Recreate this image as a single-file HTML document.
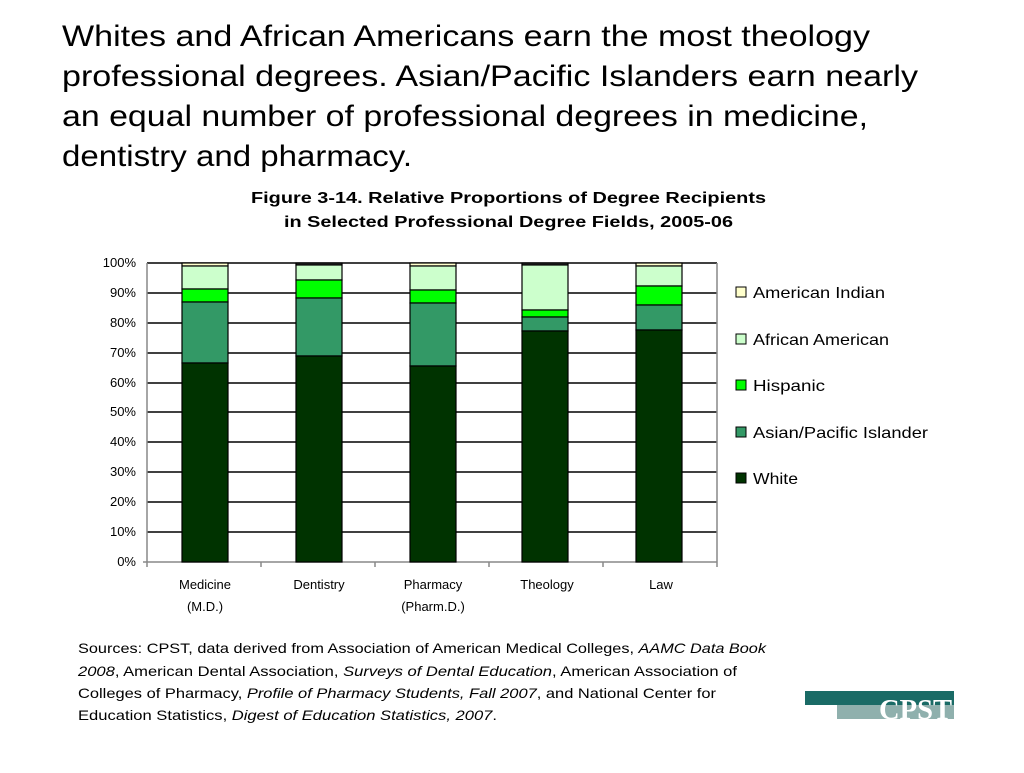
<!DOCTYPE html>
<html><head><meta charset="utf-8"><style>
body{margin:0;width:1024px;height:768px;background:#fff;overflow:hidden;font-family:"Liberation Sans",sans-serif}
</style></head><body>
<svg width="1024" height="768" xmlns="http://www.w3.org/2000/svg" font-family="Liberation Sans, sans-serif">
<g font-size="30" fill="#000">
<text x="62" y="46" textLength="808" lengthAdjust="spacingAndGlyphs">Whites and African Americans earn the most theology</text>
<text x="62" y="86" textLength="856" lengthAdjust="spacingAndGlyphs">professional degrees. Asian/Pacific Islanders earn nearly</text>
<text x="62" y="126" textLength="806" lengthAdjust="spacingAndGlyphs">an equal number of professional degrees in medicine,</text>
<text x="62" y="166" textLength="350" lengthAdjust="spacingAndGlyphs">dentistry and pharmacy.</text>
</g>
<g font-size="16" font-weight="bold">
<text x="251" y="203" textLength="515" lengthAdjust="spacingAndGlyphs">Figure 3-14. Relative Proportions of Degree Recipients</text>
<text x="284" y="227" textLength="449" lengthAdjust="spacingAndGlyphs">in Selected Professional Degree Fields, 2005-06</text>
</g>
<g stroke="#000" stroke-width="1.5">
<line x1="147" y1="263" x2="717" y2="263"/><line x1="147" y1="293" x2="717" y2="293"/>
<line x1="147" y1="323" x2="717" y2="323"/><line x1="147" y1="353" x2="717" y2="353"/>
<line x1="147" y1="383" x2="717" y2="383"/><line x1="147" y1="412" x2="717" y2="412"/>
<line x1="147" y1="442" x2="717" y2="442"/><line x1="147" y1="472" x2="717" y2="472"/>
<line x1="147" y1="502" x2="717" y2="502"/><line x1="147" y1="532" x2="717" y2="532"/>
</g>
<g stroke="#888" stroke-width="1.5">
<line x1="147" y1="263" x2="147" y2="562"/><line x1="717" y1="263" x2="717" y2="562"/>
<line x1="143" y1="562" x2="717" y2="562"/>
<line x1="147" y1="562" x2="147" y2="567"/><line x1="261" y1="562" x2="261" y2="567"/><line x1="375" y1="562" x2="375" y2="567"/><line x1="489" y1="562" x2="489" y2="567"/><line x1="603" y1="562" x2="603" y2="567"/><line x1="717" y1="562" x2="717" y2="567"/>
</g>
<g stroke="#000" stroke-width="1.2">
<rect x="182" y="263" width="46" height="3" fill="#ffffcc"/><rect x="182" y="266" width="46" height="23" fill="#ccffcc"/><rect x="182" y="289" width="46" height="13" fill="#00ff00"/><rect x="182" y="302" width="46" height="61" fill="#339966"/><rect x="182" y="363" width="46" height="199" fill="#003300"/>
<rect x="296" y="263" width="46" height="2" fill="#333"/><rect x="296" y="265" width="46" height="15" fill="#ccffcc"/><rect x="296" y="280" width="46" height="18" fill="#00ff00"/><rect x="296" y="298" width="46" height="58" fill="#339966"/><rect x="296" y="356" width="46" height="206" fill="#003300"/>
<rect x="410" y="263" width="46" height="3" fill="#ffffcc"/><rect x="410" y="266" width="46" height="24" fill="#ccffcc"/><rect x="410" y="290" width="46" height="13" fill="#00ff00"/><rect x="410" y="303" width="46" height="63" fill="#339966"/><rect x="410" y="366" width="46" height="196" fill="#003300"/>
<rect x="522" y="263" width="46" height="2" fill="#333"/><rect x="522" y="265" width="46" height="45" fill="#ccffcc"/><rect x="522" y="310" width="46" height="7" fill="#00ff00"/><rect x="522" y="317" width="46" height="14" fill="#339966"/><rect x="522" y="331" width="46" height="231" fill="#003300"/>
<rect x="636" y="263" width="46" height="3" fill="#ffffcc"/><rect x="636" y="266" width="46" height="20" fill="#ccffcc"/><rect x="636" y="286" width="46" height="19" fill="#00ff00"/><rect x="636" y="305" width="46" height="25" fill="#339966"/><rect x="636" y="330" width="46" height="232" fill="#003300"/>
</g>
<g font-size="13" text-anchor="end">
<text x="136" y="267">100%</text><text x="136" y="297">90%</text><text x="136" y="327">80%</text><text x="136" y="357">70%</text><text x="136" y="387">60%</text><text x="136" y="416">50%</text><text x="136" y="446">40%</text><text x="136" y="476">30%</text><text x="136" y="506">20%</text><text x="136" y="536">10%</text><text x="136" y="566">0%</text>
</g>
<g font-size="13" text-anchor="middle">
<text x="205" y="589">Medicine</text><text x="205" y="611">(M.D.)</text>
<text x="319" y="589">Dentistry</text>
<text x="433" y="589">Pharmacy</text><text x="433" y="611">(Pharm.D.)</text>
<text x="547" y="589">Theology</text>
<text x="661" y="589">Law</text>
</g>
<g stroke="#000" stroke-width="1">
<rect x="736" y="287" width="10" height="10" fill="#ffffcc"/>
<rect x="736" y="334" width="10" height="10" fill="#ccffcc"/>
<rect x="736" y="380" width="10" height="10" fill="#00ff00"/>
<rect x="736" y="427" width="10" height="10" fill="#339966"/>
<rect x="736" y="473" width="10" height="10" fill="#003300"/>
</g>
<g font-size="16">
<text x="753" y="298" textLength="132" lengthAdjust="spacingAndGlyphs">American Indian</text>
<text x="753" y="345" textLength="136" lengthAdjust="spacingAndGlyphs">African American</text>
<text x="753" y="391" textLength="72" lengthAdjust="spacingAndGlyphs">Hispanic</text>
<text x="753" y="438" textLength="175" lengthAdjust="spacingAndGlyphs">Asian/Pacific Islander</text>
<text x="753" y="484" textLength="45" lengthAdjust="spacingAndGlyphs">White</text>
</g>
<g font-size="14">
<text x="78" y="653" textLength="688" lengthAdjust="spacingAndGlyphs">Sources: CPST, data derived from Association of American Medical Colleges, <tspan font-style="italic">AAMC Data Book</tspan></text>
<text x="78" y="676" textLength="659" lengthAdjust="spacingAndGlyphs"><tspan font-style="italic">2008</tspan>, American Dental Association, <tspan font-style="italic">Surveys of Dental Education</tspan>, American Association of</text>
<text x="78" y="698" textLength="638" lengthAdjust="spacingAndGlyphs">Colleges of Pharmacy, <tspan font-style="italic">Profile of Pharmacy Students, Fall 2007</tspan>,  and National Center for</text>
<text x="78" y="720" textLength="419" lengthAdjust="spacingAndGlyphs">Education Statistics, <tspan font-style="italic">Digest of Education Statistics, 2007</tspan>.</text>
</g>
<rect x="805" y="691" width="149" height="14" fill="#1a6b66"/>
<rect x="837" y="705" width="117" height="14" fill="#8fb0ad"/>
<text x="879" y="719" font-family="Liberation Serif, serif" font-weight="bold" font-size="28" fill="#fff" textLength="73" lengthAdjust="spacingAndGlyphs">CPST</text>
</svg>
</body></html>
